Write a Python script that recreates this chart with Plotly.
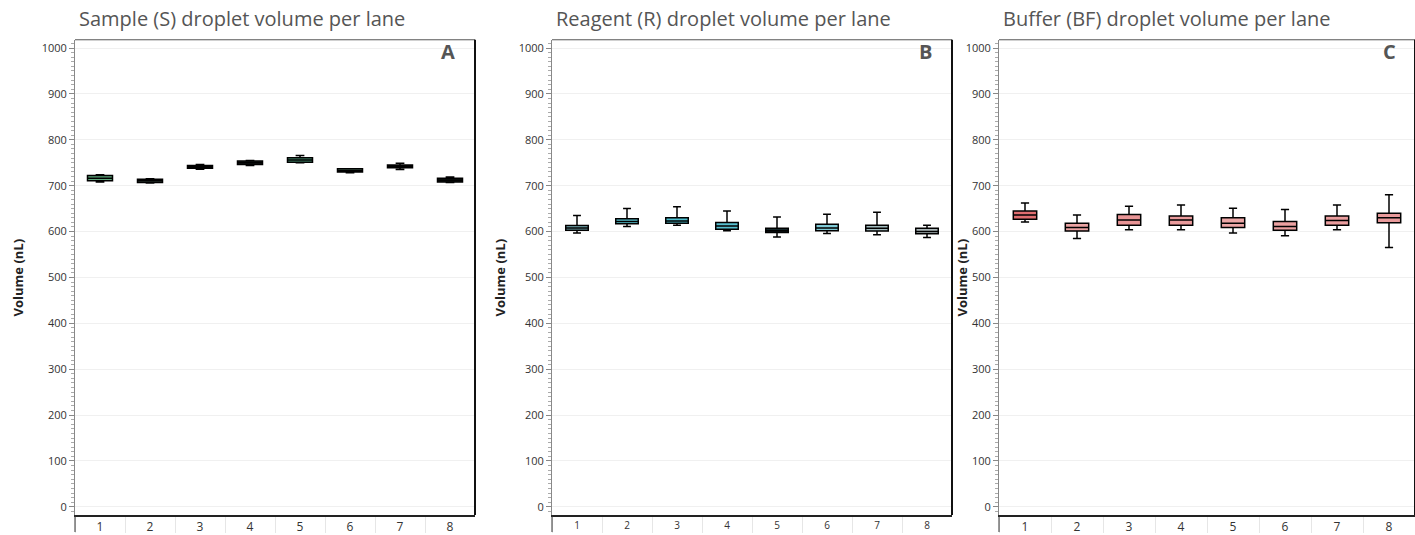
import plotly.graph_objects as go

lanes = [1, 2, 3, 4, 5, 6, 7, 8]

# Sample (S) droplet volume summary per lane (nL)
s_min = [708, 706, 736, 744, 750, 728, 735, 707]
s_q1 = [711, 707, 738, 746, 751, 730, 739, 708]
s_med = [716, 711, 741, 750, 756, 733, 742, 712]
s_q3 = [722, 714, 744, 754, 761, 737, 745, 716]
s_max = [724, 715, 746, 755, 766, 737, 749, 719]
s_colors = ["#5ea97c", "#5d7b69", "#a9d3b9", "#1e2b24", "#4f9a7a", "#8cc6a4", "#b3dac2", "#111a15"]

# Reagent (R) droplet volume summary per lane (nL)
r_min = [597, 611, 614, 602, 588, 596, 593, 587]
r_q1 = [603, 617, 618, 605, 598, 602, 601, 595]
r_med = [608, 622, 623, 612, 602, 608, 607, 600]
r_q3 = [613, 628, 630, 620, 607, 616, 614, 607]
r_max = [635, 650, 654, 645, 632, 638, 642, 614]
r_colors = ["#7ab4bc", "#58c3d1", "#4dbdcd", "#57bfcf", "#15272a", "#7fcad6", "#a2bcbf", "#abb7b9"]

# Buffer (BF) droplet volume summary per lane (nL)
b_min = [621, 585, 604, 604, 597, 591, 604, 565]
b_q1 = [627, 601, 614, 614, 609, 603, 614, 619]
b_med = [636, 609, 625, 625, 618, 611, 624, 630]
b_q3 = [645, 618, 637, 634, 630, 622, 634, 640]
b_max = [662, 636, 655, 658, 651, 648, 658, 680]
b_colors = ["#e06e70", "#eba3a3", "#e99596", "#ea9b9c", "#eca6a6", "#eba1a1", "#eb9e9f", "#e99a9b"]

titles = ["Sample (S) droplet volume per lane",
          "Reagent (R) droplet volume per lane",
          "Buffer (BF) droplet volume per lane"]
letters = ["A", "B", "C"]
y_ticks = [0, 100, 200, 300, 400, 500, 600, 700, 800, 900, 1000]

W, H = 1415, 535
# pixel extents of the three panels
panels_px = [(75, 475), (552, 952), (999, 1416)]
ytitle_px = [18, 500, 962]
top_px, bottom_px = 40, 518
y_dom = [1 - bottom_px / H, 1 - top_px / H]
box_widths = [0.5, 0.45, 0.45]
xlabel_size = [12, 10, 12]

series = [
    (s_min, s_q1, s_med, s_q3, s_max, s_colors),
    (r_min, r_q1, r_med, r_q3, r_max, r_colors),
    (b_min, b_q1, b_med, b_q3, b_max, b_colors),
]

fig = go.Figure()
annotations = []
shapes = []

for i, (lo, q1, med, q3, hi, cols) in enumerate(series):
    xa = "x" if i == 0 else f"x{i + 1}"
    ya = "y" if i == 0 else f"y{i + 1}"
    for j, lane in enumerate(lanes):
        fig.add_trace(go.Box(
            x=[lane], lowerfence=[lo[j]], q1=[q1[j]], median=[med[j]],
            q3=[q3[j]], upperfence=[hi[j]],
            fillcolor=cols[j], line=dict(color="#000000", width=1.5),
            width=box_widths[i], whiskerwidth=0.35,
            xaxis=xa, yaxis=ya, showlegend=False, hoverinfo="skip",
        ))

    x0, x1 = panels_px[i]
    dom = [x0 / W, min(x1 / W, 1.0)]
    xkey = "xaxis" if i == 0 else f"xaxis{i + 1}"
    ykey = "yaxis" if i == 0 else f"yaxis{i + 1}"
    fig.update_layout(**{
        xkey: dict(
            domain=dom, anchor=ya, range=[0.5, 8.5],
            tickmode="array", tickvals=lanes, ticktext=[str(v) for v in lanes],
            ticks="", showgrid=False, zeroline=False,
            showline=True, linecolor="#222222", linewidth=1.5, mirror=False,
            tickfont=dict(family="Open Sans", size=xlabel_size[i], color="#333333"),
            minor=dict(tickmode="array", tickvals=[k + 0.5 for k in range(8)],
                       ticks="outside", ticklen=16, tickcolor="#e6e6e6", tickwidth=1),
        ),
        ykey: dict(
            domain=y_dom, anchor=xa, range=[-18, 1018],
            tickmode="array", tickvals=y_ticks, ticks="outside", ticklen=5,
            tickcolor="#888888", showgrid=True, gridcolor="#f0f0f0", gridwidth=1,
            zeroline=False, showline=True, linecolor="#888888", linewidth=1,
            tickfont=dict(family="Open Sans", size=11, color="#333333"),
            minor=dict(dtick=10, ticks="outside", ticklen=3, tickcolor="#aaaaaa",
                       showgrid=False),
        ),
    })

    # panel frame: top and right edges
    shapes.append(dict(type="line", xref="paper", yref="paper",
                       x0=dom[0], x1=dom[1], y0=y_dom[1], y1=y_dom[1],
                       line=dict(color="#555555", width=1)))
    shapes.append(dict(type="line", xref="paper", yref="paper",
                       x0=dom[1], x1=dom[1], y0=y_dom[0], y1=y_dom[1],
                       line=dict(color="#111111", width=2)))
    # left axis line continues below the baseline
    shapes.append(dict(type="line", xref="paper", yref="paper",
                       x0=dom[0], x1=dom[0], y0=0, y1=y_dom[0],
                       line=dict(color="#333333", width=1)))

    annotations.append(dict(
        text=titles[i], xref="paper", yref="paper", x=(x0 + 2) / W, y=1 - 19 / H,
        xanchor="left", yanchor="middle", showarrow=False,
        font=dict(family="Open Sans", size=20, color="#555555"),
    ))
    annotations.append(dict(
        text=f"<b>{letters[i]}</b>", xref="paper", yref="paper",
        x=(x1 - 18) / W, y=1 - 52 / H, xanchor="right", yanchor="middle",
        showarrow=False, font=dict(family="Open Sans", size=20, color="#555555"),
    ))
    annotations.append(dict(
        text="<b>Volume (nL)</b>", xref="paper", yref="paper",
        x=ytitle_px[i] / W, y=(y_dom[0] + y_dom[1]) / 2, textangle=-90,
        xanchor="center", yanchor="middle", showarrow=False,
        font=dict(family="Open Sans", size=13, color="#222222"),
    ))

fig.update_layout(
    width=W, height=H, margin=dict(l=0, r=0, t=0, b=0),
    paper_bgcolor="white", plot_bgcolor="white",
    annotations=annotations, shapes=shapes, showlegend=False,
)

fig.write_html("out.html")
